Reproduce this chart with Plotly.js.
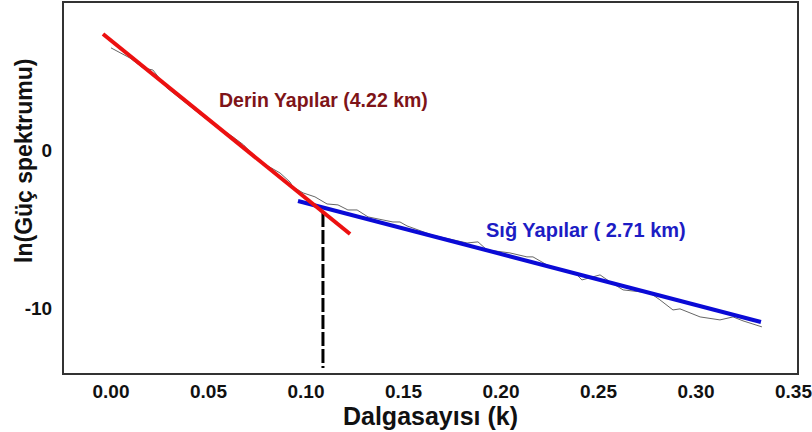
<!DOCTYPE html>
<html>
<head>
<meta charset="utf-8">
<script src="https://cdn.plot.ly/plotly-3.0.1.min.js"></script>
<style>html,body{margin:0;padding:0;background:#fff;}#chart{width:812px;height:432px;}</style>
</head>
<body>
<div id="chart"></div>
<script>
// Observed spectrum (wavenumber k vs ln power)
const spectrumK = [0, 0.0097, 0.0164, 0.0215, 0.0287, 0.038, 0.048, 0.0626, 0.068, 0.076, 0.0867, 0.0918, 0.0933, 0.0985, 0.1046, 0.1108, 0.1164, 0.1215, 0.1262, 0.1318, 0.1446, 0.1482, 0.1518, 0.165, 0.1826, 0.1882, 0.1928, 0.2046, 0.2133, 0.2164, 0.2236, 0.239, 0.2415, 0.2508, 0.2559, 0.2626, 0.2764, 0.2815, 0.2882, 0.2918, 0.3021, 0.3123, 0.319, 0.3241, 0.3338];
const spectrumY = [6.46, 5.82, 5.19, 5.06, 3.92, 3.0, 2.03, 0.82, 0.32, -0.7, -1.46, -2.03, -2.34, -2.72, -2.97, -3.42, -3.48, -3.8, -3.8, -4.24, -4.56, -4.56, -4.81, -5.4, -5.89, -5.82, -6.33, -6.52, -6.77, -6.77, -7.28, -7.91, -8.23, -7.91, -8.35, -8.86, -9.05, -9.49, -10.13, -10.06, -10.57, -10.76, -10.57, -10.82, -11.2];

// Fitted lines
const deepK = [-0.0041, 0.1226];
const deepY = [7.34, -5.32];
const shallowK = [0.0959, 0.3333];
const shallowY = [-3.23, -10.89];

// Break point marker
const breakK = [0.1087, 0.1087];
const breakY = [-3.99, -13.8];

// Labels
const deepLabel = "Derin Yapılar (4.22 km)";
const deepLabelPos = [0.109, 3.16];
const shallowLabel = "Sığ Yapılar ( 2.71 km)";
const shallowLabelPos = [0.2436, -5.06];
const xTitle = "Dalgasayısı (k)";
const yTitle = "ln(Güç spektrumu)";

const xTickVals = [0, 0.05, 0.10, 0.15, 0.20, 0.25, 0.30, 0.35];
const xTickText = ["0.00", "0.05", "0.10", "0.15", "0.20", "0.25", "0.30", "0.35"];
const yTickVals = [0, -10];
const yTickText = ["0", "-10"];

const FONT = "Arial, 'Liberation Sans', sans-serif";

const traces = [
  {x: spectrumK, y: spectrumY, mode: "lines", line: {color: "#666666", width: 1}, hoverinfo: "skip"},
  {x: breakK, y: breakY, mode: "lines", line: {color: "#000000", width: 3, dash: "14px,3px"}, hoverinfo: "skip"},
  {x: shallowK, y: shallowY, mode: "lines", line: {color: "#0a0ad6", width: 4}},
  {x: deepK, y: deepY, mode: "lines", line: {color: "#ec1010", width: 4}}
];

const layout = {
  width: 812, height: 432,
  margin: {l: 64, r: 15, t: 3, b: 59},
  paper_bgcolor: "#ffffff", plot_bgcolor: "#ffffff",
  showlegend: false,
  font: {family: FONT, color: "#111111"},
  xaxis: {
    range: [-0.0241, 0.3518],
    tickvals: xTickVals, ticktext: xTickText,
    showgrid: false, zeroline: false,
    showline: true, mirror: true, linecolor: "#333333", linewidth: 2,
    ticks: "", ticklabelstandoff: 0, ticklabeloverflow: "allow",
    tickfont: {family: FONT, size: 19, color: "#111111", weight: "bold"},
    title: {text: xTitle, font: {family: FONT, size: 25, color: "#111111", weight: "bold"}, standoff: 4}
  },
  yaxis: {
    range: [-14.12, 9.30],
    tickvals: yTickVals, ticktext: yTickText,
    showgrid: false, zeroline: false,
    showline: true, mirror: true, linecolor: "#333333", linewidth: 2,
    ticks: "", ticklabelstandoff: 6,
    tickfont: {family: FONT, size: 19, color: "#111111", weight: "bold"}
  },
  annotations: [
    {x: -0.0546, y: 0.573, xref: "paper", yref: "paper", text: yTitle, textangle: -90, showarrow: false,
     xanchor: "center", yanchor: "middle",
     font: {family: FONT, size: 23, color: "#111111", weight: "bold"}},
    {x: deepLabelPos[0], y: deepLabelPos[1], xref: "x", yref: "y", text: deepLabel, showarrow: false,
     font: {family: FONT, size: 19.5, color: "#7e1418", weight: "bold"}},
    {x: shallowLabelPos[0], y: shallowLabelPos[1], xref: "x", yref: "y", text: shallowLabel, showarrow: false,
     font: {family: FONT, size: 20, color: "#1c1cc4", weight: "bold"}}
  ]
};

Plotly.newPlot("chart", traces, layout, {staticPlot: true, displayModeBar: false});
</script>
</body>
</html>
